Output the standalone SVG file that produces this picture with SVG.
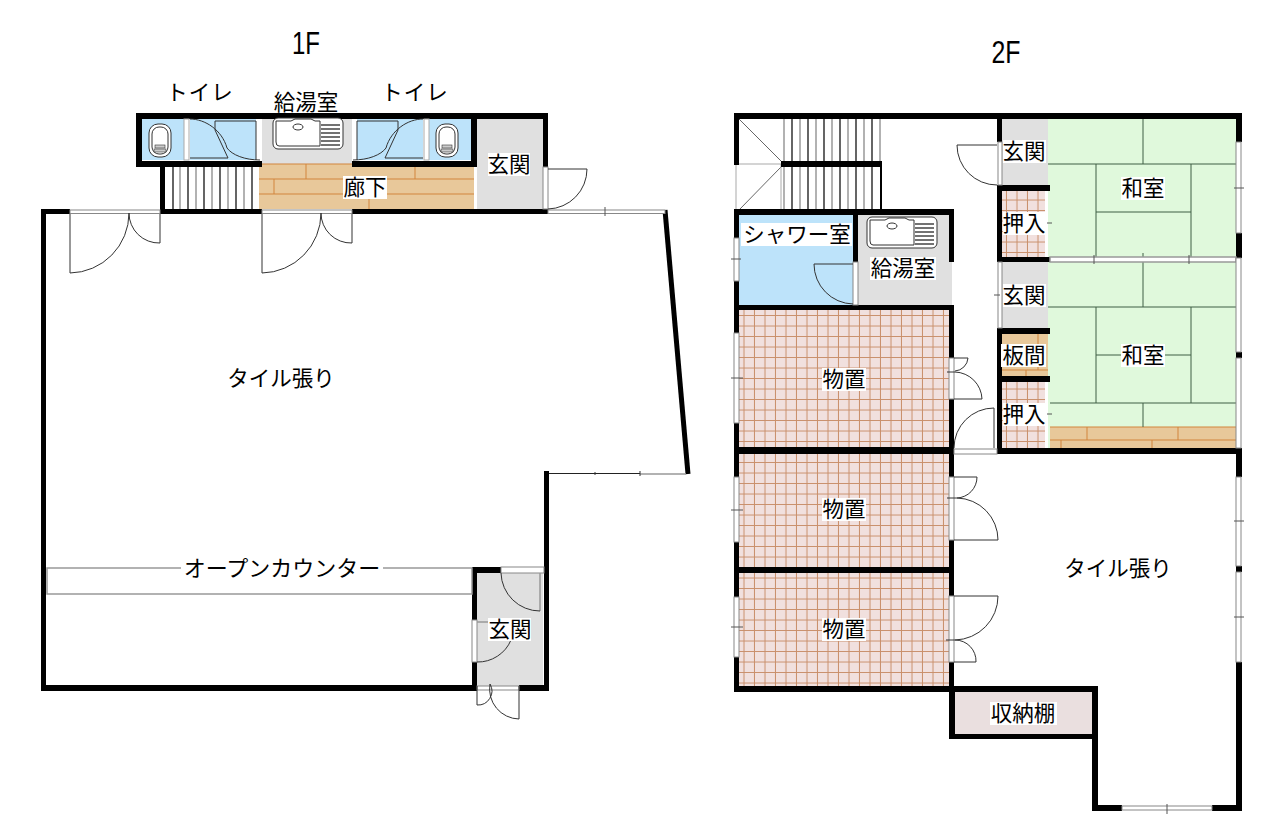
<svg xmlns="http://www.w3.org/2000/svg" width="1280" height="829" viewBox="0 0 1280 829">
<style>
.w{fill:#000}
.t{font-family:"Noto Sans CJK JP","Liberation Sans",sans-serif;font-size:21.5px;fill:#000;text-anchor:middle}
.h{font-family:"Liberation Sans",sans-serif;font-size:32px;fill:#000;text-anchor:middle}
.bg{fill:#fff}
.d{fill:none;stroke:#333;stroke-width:1}
.g{fill:none;stroke:#999;stroke-width:1.5}
.gw{fill:#fff;stroke:#888;stroke-width:1}
.tat{fill:none;stroke:#3f5f45;stroke-width:1}
.wl{fill:none;stroke:#d2853c;stroke-width:1}
.blue{fill:#bde3fa}.gray{fill:#e0e0e0}.green{fill:#e0f9dc}.wood{fill:#e8c89a}
.st{stroke:#000;stroke-width:1.2}
.sg{stroke:#999;stroke-width:1.5}
</style>
<defs>
<pattern id="tile" width="10.5" height="10.5" patternUnits="userSpaceOnUse" x="-1" y="1">
<rect width="10.5" height="10.5" fill="#f1e0de"/>
<path d="M10 0V10.5M0 10H10.5" stroke="#c98f6b" stroke-width="1"/>
</pattern>
<g id="sink">
<rect x="0" y="0" width="70" height="31" rx="5" fill="#fff" stroke="#333" stroke-width="1"/>
<path d="M3 3H18L22 1H38L42 3H47V28H6Q3 28 3 24Z" fill="#fff" stroke="#333" stroke-width="1"/>
<ellipse cx="25" cy="9" rx="5" ry="3" fill="#fff" stroke="#333"/>
<path d="M48 7H67M48 11H67M48 15H67M48 19H67M48 23H67M48 27H67" stroke="#444" stroke-width="1.4"/>
</g>
<g id="toilet">
<rect x="0" y="0" width="22" height="33" rx="9" fill="#fff" stroke="#333" stroke-width="1"/>
<rect x="3" y="3" width="16" height="27" rx="7" fill="#fff" stroke="#333" stroke-width="1"/>
<rect x="6" y="21" width="10" height="3" fill="#ccc" stroke="#333" stroke-width=".6"/>
<rect x="5" y="25" width="12" height="3" fill="#ccc" stroke="#333" stroke-width=".6"/>
</g>
</defs>
<rect width="1280" height="829" fill="#fff"/>

<g id="floor-1f">
<rect class="blue" x="142" y="119" width="42" height="41"/>
<rect class="blue" x="190" y="119" width="66" height="41"/>
<rect class="gray" x="262" y="119" width="90" height="45"/>
<rect class="blue" x="357" y="119" width="66" height="41"/>
<rect class="blue" x="429" y="119" width="42" height="41"/>
<rect class="gray" x="477" y="119" width="66" height="90"/>
<rect class="wood" x="259" y="164" width="215" height="45"/>
<path class="wl" d="M259 164H474M259 179H474M259 194H474M306 164V179M415 164V179M274 179V194M369 194V209"/>
<rect class="gray" x="477" y="573" width="66" height="113"/>
</g>
<g id="stairs-1f">
<path class="st" d="M173 167V209M188 167V209M204 167V209M220 167V209M236 167V209M252 167V209"/>
<path class="sg" d="M180 167V209M196 167V209M212 167V209M228 167V209M244 167V209"/>
</g>
<g id="walls-1f">
<rect class="w" x="136" y="113" width="412" height="6"/>
<rect class="w" x="136" y="113" width="6" height="54"/>
<rect class="w" x="136" y="161" width="126" height="6"/>
<rect class="w" x="352" y="161" width="125" height="6"/>
<rect class="w" x="471" y="113" width="6" height="54"/>
<rect class="w" x="543" y="113" width="5" height="54"/>
<rect class="w" x="160" y="161" width="5" height="53"/>
<rect class="w" x="160" y="209" width="102" height="5"/>
<rect class="w" x="352" y="209" width="196" height="5"/>
<rect class="w" x="41" y="209" width="29" height="5"/>
<rect class="w" x="41" y="209" width="5" height="482"/>
<rect class="w" x="41" y="685" width="436" height="6"/>
<rect class="w" x="519" y="685" width="30" height="6"/>
<rect class="w" x="544" y="471" width="5" height="220"/>
<rect class="w" x="472" y="567" width="29" height="6"/>
<rect class="w" x="472" y="567" width="5" height="53"/>
<rect class="w" x="472" y="662" width="5" height="29"/>
<path d="M665 210L688 474" stroke="#000" stroke-width="5" fill="none"/>
<rect x="184" y="119" width="5" height="41" fill="#fff" stroke="#aaa" stroke-width="1"/>
<rect x="424" y="119" width="5" height="41" fill="#fff" stroke="#aaa" stroke-width="1"/>
<rect x="543" y="167" width="5" height="42" class="gw"/>
<rect x="70" y="210" width="90" height="3.500" class="gw"/>
<rect x="262" y="210" width="90" height="3.500" class="gw"/>
<rect x="548" y="210" width="117" height="3.500" class="gw"/>
<path d="M605 207V216" stroke="#555"/>
<path d="M549 473.500H640" stroke="#222" stroke-width="1.200"/>
<path d="M640 474H686" stroke="#999" stroke-width="1.500"/>
<path d="M595 472V475M640 471V476" stroke="#333"/>
<rect x="501" y="567" width="43" height="6" class="gw"/>
<rect x="472" y="620" width="5" height="42" class="gw"/>
<rect x="477" y="686" width="42" height="4" class="gw"/>
</g>
<g id="counter-1f"><rect x="47" y="568" width="425" height="26" fill="#fff" stroke="#999" stroke-width="1.500"/></g>
<g id="doors-1f">
<path class="d" d="M190 119C205 119 222 130 227 148C232 155 245 160 260 160M215 121H256V160M215 121V130L228 158H190"/>
<path class="d" d="M423 119C408 119 391 130 386 148C381 155 368 160 353 160M398 121H357V160M398 121V130L385 158H423"/>
<path class="d" d="M548 169H587A40 40 0 0 1 548 209"/>
<path class="d" d="M70 214V273A60 60 0 0 0 129 213A30 30 0 0 0 160 243V214"/>
<path class="d" d="M262 214V273A60 60 0 0 0 321 213A30 30 0 0 0 352 243V214"/>
<path class="g" d="M540 573V611"/>
<path class="d" d="M501 573A39 39 0 0 0 540 611"/>
<path class="g" d="M477 622H490"/>
<path class="d" d="M477 662A36 36 0 0 0 511 640"/>
<path class="d" d="M477 686V705A14 14 0 0 0 490 684A30 30 0 0 0 519 719V686"/>
</g>
<use href="#sink" x="273" y="118"/>
<use href="#toilet" x="149" y="124"/>
<use href="#toilet" x="436" y="124"/>

<g id="floor-2f">
<rect class="blue" x="739" y="215" width="114" height="90"/>
<path class="gray" d="M858 215H949V262H952V305H858Z"/>
<rect fill="url(#tile)" x="739" y="310" width="210" height="137"/>
<rect fill="url(#tile)" x="739" y="454" width="210" height="113"/>
<rect fill="url(#tile)" x="739" y="573" width="210" height="113"/>
<rect class="gray" x="1002" y="119" width="46" height="66"/>
<rect class="gray" x="1002" y="262" width="46" height="66"/>
<rect class="wood" x="1002" y="334" width="46" height="42"/>
<path class="wl" d="M1002 370H1048M1038 334V370M1026 370V376"/>
<rect fill="url(#tile)" x="1002" y="191" width="43" height="66"/>
<rect fill="url(#tile)" x="1002" y="382" width="43" height="66"/>
<rect class="green" x="1048" y="119" width="188" height="138"/>
<rect class="green" x="1048" y="262" width="188" height="186"/>
<rect class="wood" x="1050" y="427" width="186" height="21"/>
<path class="wl" d="M1050 427H1236M1050 440H1236M1087 427V440M1178 427V440M1061 440V448M1152 440V448"/>
<path class="tat" d="M1143 119V164M1048 164H1236M1096 164V257M1191 164V257M1096 212H1191M1143 253V262M1143 262V307M1048 307H1241M1096 307V403M1191 307V403M1096 355H1191M1050 403H1236M1143 403V427"/>
<rect x="955" y="692" width="137" height="42" fill="#eadfdf"/>
</g>
<g id="stairs-2f">
<path class="st" d="M792 119V161M808 119V161M824 119V161M840 119V161M856 119V161M872 119V161M792 167V209M808 167V209M824 167V209M840 167V209M856 167V209M872 167V209"/>
<path class="sg" d="M784 119V161M800 119V161M816 119V161M832 119V161M848 119V161M864 119V161M880 119V161M784 167V209M800 167V209M816 167V209M832 167V209M848 167V209M864 167V209"/>
<path d="M739 119L781 161M739 210L781 167" stroke="#666" fill="none"/>
<rect x="736" y="164" width="45" height="46" fill="none" stroke="#aaa"/>
</g>
<g id="walls-2f">
<rect class="w" x="734" y="113" width="507" height="6"/>
<rect class="w" x="734" y="113" width="5" height="52"/>
<rect class="w" x="734" y="209" width="5" height="29"/>
<rect class="w" x="734" y="281" width="5" height="52"/>
<rect class="w" x="734" y="423" width="5" height="54"/>
<rect class="w" x="734" y="542" width="5" height="55"/>
<rect class="w" x="734" y="657" width="5" height="35"/>
<rect class="w" x="781" y="161" width="101" height="6"/>
<rect class="w" x="880" y="161" width="2" height="50"/>
<rect class="w" x="734" y="209" width="220" height="6"/>
<rect class="w" x="853" y="209" width="5" height="53"/>
<rect class="w" x="949" y="209" width="5" height="53"/>
<rect class="w" x="734" y="305" width="220" height="5"/>
<rect class="w" x="949" y="305" width="5" height="53"/>
<rect class="w" x="949" y="399" width="5" height="78"/>
<rect class="w" x="949" y="540" width="5" height="56"/>
<rect class="w" x="949" y="662" width="5" height="30"/>
<rect class="w" x="734" y="447" width="220" height="7"/>
<rect class="w" x="734" y="567" width="220" height="6"/>
<rect class="w" x="734" y="686" width="220" height="6"/>
<rect class="w" x="949" y="686" width="149" height="6"/>
<rect class="w" x="949" y="686" width="6" height="53"/>
<rect class="w" x="949" y="734" width="149" height="5"/>
<rect class="w" x="1092" y="686" width="6" height="125"/>
<rect class="w" x="1092" y="805" width="30" height="6"/>
<rect class="w" x="1212" y="805" width="30" height="6"/>
<rect class="w" x="1236" y="113" width="6" height="29"/>
<rect class="w" x="1236" y="233" width="6" height="25"/>
<rect class="w" x="1236" y="352" width="6" height="6"/>
<rect class="w" x="1236" y="448" width="6" height="29"/>
<rect class="w" x="1236" y="566" width="6" height="6"/>
<rect class="w" x="1236" y="662" width="6" height="149"/>
<rect class="w" x="997" y="113" width="5" height="29"/>
<rect class="w" x="997" y="185" width="5" height="77"/>
<rect class="w" x="997" y="185" width="53" height="6"/>
<rect class="w" x="997" y="257" width="53" height="5"/>
<rect class="w" x="997" y="328" width="5" height="126"/>
<rect class="w" x="997" y="328" width="53" height="6"/>
<rect class="w" x="997" y="376" width="53" height="6"/>
<rect class="w" x="997" y="448" width="245" height="6"/>
<rect x="1050" y="257" width="186" height="5" fill="#fff" stroke="#999" stroke-width="1.500"/>
</g>
<g id="windows-2f">
<rect class="gw" x="734" y="238" width="5" height="43"/>
<rect class="gw" x="734" y="333" width="5" height="90"/>
<rect class="gw" x="734" y="477" width="5" height="65"/>
<rect class="gw" x="734" y="597" width="5" height="60"/>
<rect class="gw" x="1236" y="142" width="5" height="91"/>
<rect class="gw" x="1236" y="258" width="5" height="94"/>
<rect class="gw" x="1236" y="358" width="5" height="90"/>
<rect class="gw" x="1236" y="477" width="5" height="89"/>
<rect class="gw" x="1236" y="572" width="5" height="90"/>
<rect class="gw" x="1122" y="806" width="90" height="4"/>
<rect class="gw" x="998" y="142" width="4" height="43"/>
<rect class="gw" x="998" y="262" width="4" height="66"/>
<rect class="gw" x="954" y="449" width="43" height="5"/>
<rect class="gw" x="949" y="358" width="5" height="41"/>
<rect class="gw" x="949" y="477" width="5" height="63"/>
<rect class="gw" x="949" y="596" width="5" height="66"/>
<rect class="gw" x="853" y="262" width="5" height="43"/>
<path d="M731 259H741M731 378H743M731 510H743M731 627H743M1234 188H1244M1234 521H1244M1234 617H1244M1167 804V814M1047 223H1052M1047 414H1052M994 295H1000M1094 255V264M1189 255V264" stroke="#555" stroke-width="1" fill="none"/>
</g>
<g id="doors-2f">
<path class="d" d="M957 145H997M957 145A40 40 0 0 0 997 185"/>
<path class="d" d="M814 264H853M814 264A40 40 0 0 0 853 304"/>
<path class="d" d="M954 358H968A14 14 0 0 1 955 371M947 372H955A28 28 0 0 1 982 399H954"/>
<path class="d" d="M994 448V408A40 40 0 0 0 954 448"/>
<path class="d" d="M954 477H977A21 21 0 0 1 957 498M947 498H957A42 42 0 0 1 998 540H954"/>
<path class="d" d="M954 596H998A44 44 0 0 1 955 640M946 640H955A21 21 0 0 1 976 662H954"/>
</g>
<use href="#sink" x="867" y="217"/>

<g id="labels">
<text class="h" x="306" y="54" textLength="28" lengthAdjust="spacingAndGlyphs">1F</text>
<text class="h" x="1006" y="63" textLength="29" lengthAdjust="spacingAndGlyphs">2F</text>
<text class="t" x="200" y="100" letter-spacing="1">トイレ</text>
<text class="t" x="415" y="100" letter-spacing="1">トイレ</text>
<text class="t" x="306" y="110">給湯室</text>
<rect class="bg" x="488" y="153" width="42" height="23"/><text class="t" x="509" y="172">玄関</text>
<rect class="bg" x="343" y="176" width="44" height="23"/><text class="t" x="365" y="195">廊下</text>
<text class="t" x="281" y="386">タイル張り</text>
<rect class="bg" x="181" y="558" width="202" height="23"/><text class="t" x="282" y="576" style="font-size:22px">オープンカウンター</text>
<rect class="bg" x="488" y="618" width="43" height="23"/><text class="t" x="510" y="637">玄関</text>
<rect class="bg" x="1003" y="140" width="43" height="23"/><text class="t" x="1024" y="159">玄関</text>
<rect class="bg" x="1003" y="212" width="43" height="23"/><text class="t" x="1024" y="231">押入</text>
<rect class="bg" x="1003" y="284" width="43" height="23"/><text class="t" x="1024" y="303">玄関</text>
<rect class="bg" x="1001" y="344" width="45" height="23"/><text class="t" x="1024" y="363">板間</text>
<rect class="bg" x="1003" y="403" width="43" height="23"/><text class="t" x="1024" y="422">押入</text>
<rect class="bg" x="1121" y="177" width="44" height="23"/><text class="t" x="1143" y="196">和室</text>
<rect class="bg" x="1121" y="344" width="44" height="23"/><text class="t" x="1143" y="363">和室</text>
<rect class="bg" x="741" y="223" width="111" height="23"/><text class="t" x="797" y="242">シャワー室</text>
<rect class="bg" x="870" y="257" width="66" height="23"/><text class="t" x="903" y="276">給湯室</text>
<rect class="bg" x="822" y="368" width="44" height="23"/><text class="t" x="844" y="387">物置</text>
<rect class="bg" x="822" y="498" width="44" height="23"/><text class="t" x="844" y="517">物置</text>
<rect class="bg" x="822" y="618" width="44" height="23"/><text class="t" x="844" y="637">物置</text>
<text class="t" x="1118" y="576">タイル張り</text>
<rect class="bg" x="990" y="702" width="67" height="23"/><text class="t" x="1023" y="721">収納棚</text>
</g>
</svg>
